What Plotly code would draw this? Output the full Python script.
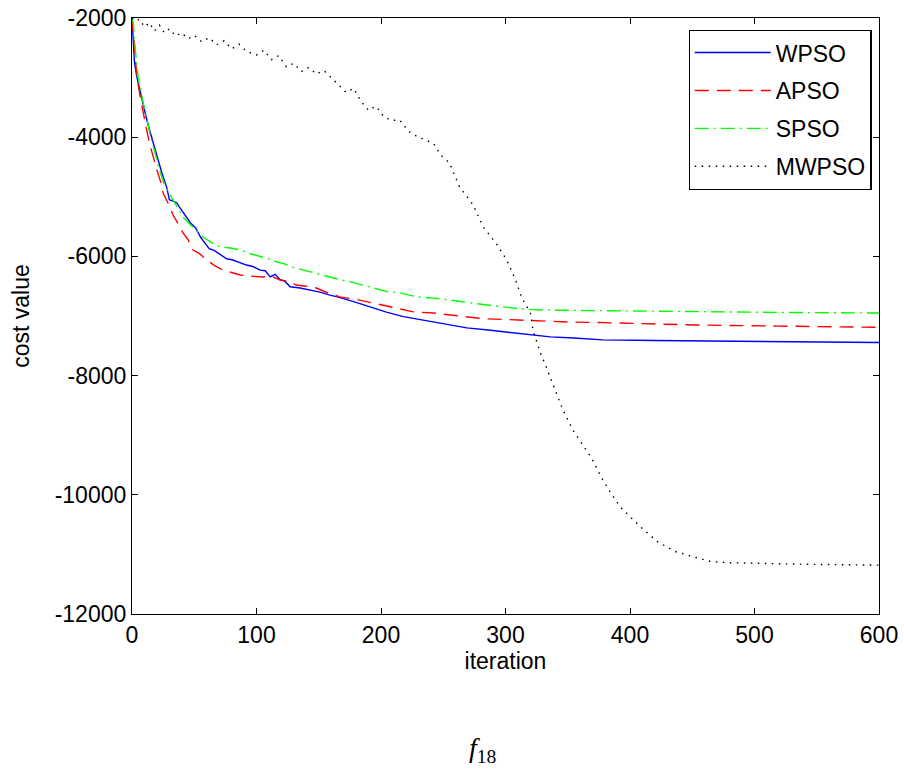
import plotly.graph_objects as go

# ---- data ----
wpso_it = [0, 1, 2, 4, 6, 8, 10, 13, 17, 20, 24, 28, 30, 34, 36, 38, 42, 47, 51, 55, 58, 62, 66, 70, 76, 81, 87, 92, 97, 103, 107, 111, 115, 119, 123, 127, 135, 143, 151, 159, 165, 178, 191, 205, 218, 231, 250, 269, 288, 306, 320, 336, 355, 378, 420, 500, 600]
wpso_val = [-2000, -2350, -2750, -3000, -3200, -3350, -3540, -3800, -4100, -4300, -4600, -4850, -5050, -5080, -5104, -5170, -5300, -5440, -5520, -5675, -5760, -5870, -5900, -5960, -6040, -6060, -6110, -6145, -6170, -6230, -6240, -6345, -6300, -6390, -6420, -6510, -6530, -6560, -6600, -6650, -6680, -6760, -6845, -6940, -7010, -7060, -7130, -7200, -7240, -7280, -7310, -7350, -7370, -7400, -7410, -7430, -7445]

apso_it = [0, 1, 2, 4, 6, 8, 11, 14, 17, 20, 23, 25, 30, 33, 37, 41, 45, 49, 54, 60, 66, 73, 80, 87, 95, 105, 112, 119, 126, 132, 140, 148, 157, 167, 180, 194, 210, 226, 242, 262, 282, 302, 322, 350, 376, 410, 451, 520, 600]
apso_val = [-2000, -2250, -2600, -3000, -3250, -3490, -3800, -4100, -4350, -4550, -4750, -4936, -5150, -5305, -5450, -5607, -5720, -5893, -5950, -6060, -6150, -6228, -6270, -6312, -6330, -6345, -6330, -6396, -6420, -6480, -6500, -6530, -6610, -6680, -6720, -6780, -6860, -6930, -6950, -7000, -7045, -7060, -7080, -7100, -7110, -7130, -7150, -7170, -7190]

spso_it = [0, 1, 3, 5, 7, 9, 12, 15, 19, 22, 26, 30, 33, 37, 41, 46, 51, 57, 64, 71, 79, 87, 94, 100, 108, 116, 122, 129, 136, 143, 151, 159, 165, 178, 192, 205, 215, 229, 242, 255, 275, 296, 312, 328, 350, 376, 420, 456, 520, 600]
spso_val = [-2000, -2080, -2600, -3000, -3200, -3430, -3700, -4000, -4300, -4550, -4800, -4960, -5054, -5200, -5340, -5450, -5560, -5675, -5770, -5840, -5860, -5890, -5950, -5980, -6030, -6090, -6120, -6180, -6220, -6260, -6300, -6345, -6380, -6440, -6520, -6590, -6610, -6680, -6700, -6730, -6790, -6840, -6880, -6900, -6905, -6910, -6920, -6930, -6940, -6950]

mwpso_it = [0, 3, 6, 10, 14, 18, 22, 26, 30, 35, 40, 45, 50, 56, 62, 68, 74, 80, 86, 92, 100, 106, 112, 118, 124, 130, 136, 142, 148, 154, 160, 166, 172, 178, 184, 190, 196, 202, 208, 215, 222, 230, 236, 242, 248, 255, 263, 274, 282, 293, 301, 308, 313, 320, 322, 328, 333, 341, 346, 354, 362, 369, 377, 384, 392, 400, 408, 422, 436, 450, 465, 480, 500, 540, 600]
mwpso_val = [-2000, -2050, -2020, -2150, -2080, -2220, -2120, -2250, -2180, -2300, -2250, -2350, -2290, -2400, -2330, -2450, -2380, -2520, -2440, -2560, -2620, -2540, -2700, -2630, -2820, -2760, -2900, -2830, -2940, -2880, -3000, -3120, -3250, -3180, -3400, -3550, -3480, -3650, -3720, -3710, -3900, -4000, -4050, -4100, -4300, -4430, -4830, -5135, -5500, -5800, -6060, -6390, -6690, -6950, -7230, -7620, -7870, -8290, -8570, -8910, -9160, -9380, -9710, -9950, -10200, -10370, -10530, -10785, -10950, -11035, -11120, -11140, -11150, -11165, -11180]

x_ticks = [0, 100, 200, 300, 400, 500, 600]
y_ticks = [-2000, -4000, -6000, -8000, -10000, -12000]

FONT = "Liberation Sans"
FS = 23

fig = go.Figure()
fig.add_trace(go.Scatter(x=wpso_it, y=wpso_val, mode="lines", name="WPSO", legendgroup="a",
                         line=dict(color="#0000ff", width=1.4)))
fig.add_trace(go.Scatter(x=apso_it, y=apso_val, mode="lines", name="APSO", legendgroup="b",
                         line=dict(color="#ff0000", width=1.4, dash="14px,8px")))
fig.add_trace(go.Scatter(x=spso_it, y=spso_val, mode="lines", name="SPSO", legendgroup="c",
                         line=dict(color="#00ff00", width=1.4, dash="14px,5px,2px,5px")))
fig.add_trace(go.Scatter(x=mwpso_it, y=mwpso_val, mode="lines", name="MWPSO", legendgroup="d",
                         line=dict(color="#000000", width=1.4, dash="1.5px,5.5px")))

axis_common = dict(showline=True, linecolor="black", linewidth=1.2, mirror="ticks",
                   ticks="inside", ticklen=6, tickcolor="black", showgrid=False, zeroline=False,
                   ticklabeloverflow="allow", automargin=False,
                   tickfont=dict(family=FONT, size=FS, color="black"))

fig.update_xaxes(range=[0, 600], tickvals=x_ticks, ticktext=[str(v) for v in x_ticks],
                 title=dict(text="iteration", font=dict(family=FONT, size=FS, color="black"), standoff=6),
                 **axis_common)
fig.update_yaxes(range=[-12000, -2000], tickvals=y_ticks, ticktext=[str(v) for v in y_ticks],
                 title=dict(text="cost value", font=dict(family=FONT, size=FS, color="black"), standoff=18),
                 **axis_common)

fig.add_annotation(text="<i>f</i><sub>18</sub>", xref="paper", yref="paper", x=0.47, y=-0.228,
                   xanchor="center", yanchor="middle", showarrow=False,
                   font=dict(family="Liberation Serif", size=28, color="black"))

fig.update_layout(
    width=904, height=774,
    margin=dict(l=132, r=25, t=18, b=160),
    paper_bgcolor="white", plot_bgcolor="white",
    font=dict(family=FONT, size=FS, color="black"),
    legend=dict(x=0.99, y=0.98, xanchor="right", yanchor="top",
                bgcolor="white", bordercolor="black", borderwidth=1.2,
                font=dict(family=FONT, size=FS, color="black"),
                tracegroupgap=5, itemwidth=76),
    showlegend=True,
)

fig.write_html("out.html", config={"displayModeBar": False},
               post_script="document.body.style.margin='0';")
